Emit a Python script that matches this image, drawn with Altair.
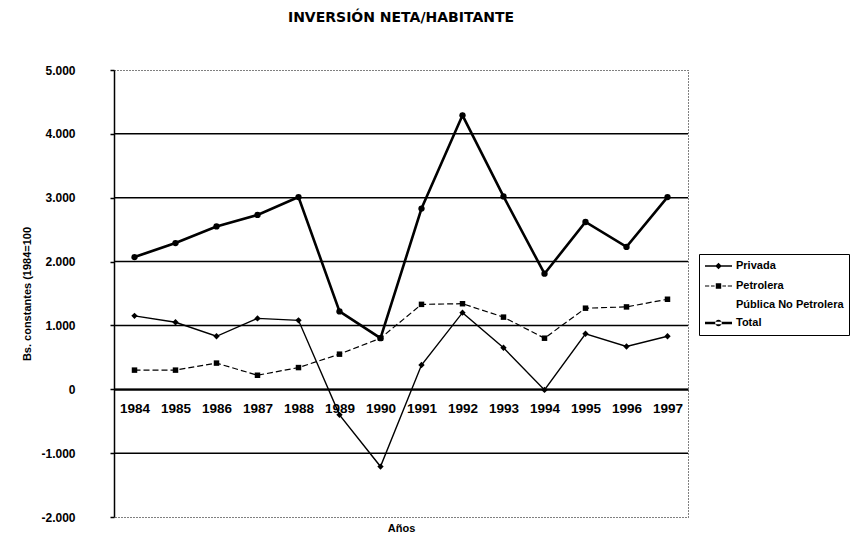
import altair as alt
import pandas as pd

# ---- data ----
years = ["1984", "1985", "1986", "1987", "1988", "1989", "1990",
         "1991", "1992", "1993", "1994", "1995", "1996", "1997"]
privada = [1150, 1050, 830, 1110, 1080, -400, -1210, 380, 1200, 650, -10, 870, 670, 830]
petrolera = [300, 300, 410, 220, 340, 550, 800, 1330, 1340, 1130, 800, 1270, 1290, 1410]
total = [2070, 2290, 2550, 2730, 3010, 1220, 800, 2830, 4290, 3020, 1810, 2620, 2230, 3010]
series_names = ["Privada", "Petrolera", "Pública No Petrolera", "Total"]
drawn_series = ["Privada", "Petrolera", "Total"]
y_ticks = [-2000, -1000, 0, 1000, 2000, 3000, 4000, 5000]
grid_values = [-1000, 0, 1000, 2000, 3000, 4000]

rows = []
for name, vals in zip(drawn_series, [privada, petrolera, total]):
    for yr, v in zip(years, vals):
        rows.append({"Año": yr, "Serie": name, "Valor": v})
df = pd.DataFrame(rows)
legend_df = pd.DataFrame({"Serie": series_names})
grid_df = pd.DataFrame({"v": grid_values})

W, H = 574, 447
Y_MIN, Y_MAX = -2000, 5000
zero_offset = -H * (0 - Y_MIN) / (Y_MAX - Y_MIN)

FONT = "Liberation Sans"

x_enc = alt.X(
    "Año:O", sort=years, scale=alt.Scale(domain=years),
    axis=alt.Axis(
        offset=zero_offset, title="Años", titleY=139, titleBaseline="middle",
        labelAngle=0, labelPadding=12, ticks=False,
        domainColor="black", domainWidth=2,
        labelFont=FONT, labelFontSize=13.5, labelFontWeight="bold", labelColor="black",
        titleFont=FONT, titleFontSize=11, titleFontWeight="bold", titleColor="black",
    ),
)
y_scale = alt.Scale(domain=[Y_MIN, Y_MAX], nice=False, zero=False)
y_enc = alt.Y(
    "Valor:Q", scale=y_scale,
    axis=alt.Axis(
        values=y_ticks, grid=False,
        labelExpr="(datum.value < 0 ? '-' : '') + replace(format(abs(datum.value), ',d'), ',', '.')",
        title="Bs. constantes (1984=100",
        domainColor="black", domainWidth=1.5, tickColor="black", tickSize=4, tickWidth=1.5,
        labelPadding=35, titlePadding=8,
        labelFont=FONT, labelFontSize=12, labelFontWeight="bold", labelColor="black",
        titleFont=FONT, titleFontSize=11, titleFontWeight="bold", titleColor="black",
    ),
)

grid = alt.Chart(grid_df).mark_rule(color="black", strokeWidth=1.5).encode(
    y=alt.Y("v:Q", scale=y_scale)
)

base = alt.Chart(df)
line_privada = base.transform_filter(alt.datum.Serie == "Privada").mark_line(
    color="black", strokeWidth=1.4).encode(x=x_enc, y=y_enc)
line_petrolera = base.transform_filter(alt.datum.Serie == "Petrolera").mark_line(
    color="black", strokeWidth=1.2, strokeDash=[6, 3]).encode(x=x_enc, y=y_enc)
line_total = base.transform_filter(alt.datum.Serie == "Total").mark_line(
    color="black", strokeWidth=2.6).encode(x=x_enc, y=y_enc)

pts_privada = base.transform_filter(alt.datum.Serie == "Privada").mark_point(
    filled=True, color="black", opacity=1, size=40, shape="diamond").encode(x=x_enc, y=y_enc)
pts_petrolera = base.transform_filter(alt.datum.Serie == "Petrolera").mark_point(
    filled=True, color="black", opacity=1, size=30, shape="square").encode(x=x_enc, y=y_enc)
pts_total = base.transform_filter(alt.datum.Serie == "Total").mark_point(
    filled=True, color="black", opacity=1, size=40, shape="circle").encode(x=x_enc, y=y_enc)

# legend symbols drawn as filled paths: unit = 6px (size 144);
# line spans -1..3.5 units (27px), marker centred at 1.25
P_PRIVADA = ("M-1,-0.11L3.5,-0.11L3.5,0.11L-1,0.11Z"
             "M1.25,-0.55L1.8,0L1.25,0.55L0.7,0Z")
P_PETROLERA = ("M-1,-0.1L-0.3,-0.1L-0.3,0.1L-1,0.1Z"
               "M0.0,-0.1L0.6,-0.1L0.6,0.1L0.0,0.1Z"
               "M1.9,-0.1L2.5,-0.1L2.5,0.1L1.9,0.1Z"
               "M2.8,-0.1L3.5,-0.1L3.5,0.1L2.8,0.1Z"
               "M0.8,-0.45L1.7,-0.45L1.7,0.45L0.8,0.45Z")
P_EMPTY = "M0,0"
P_TOTAL = ("M-1,-0.2L3.5,-0.2L3.5,0.2L-1,0.2Z"
           "M0.7,0A0.55,0.55,0,1,0,1.8,0A0.55,0.55,0,1,0,0.7,0Z")

legend_layer = alt.Chart(legend_df).mark_point(
    filled=True, color="black", opacity=0
).encode(
    shape=alt.Shape(
        "Serie:N",
        scale=alt.Scale(domain=series_names, range=[P_PRIVADA, P_PETROLERA, P_EMPTY, P_TOTAL]),
        legend=alt.Legend(
            title=None, orient="none", legendX=585, legendY=184,
            symbolSize=144, symbolFillColor="black", symbolOpacity=1,
            strokeColor="black", padding=5, rowPadding=6, labelOffset=18,
            labelFont=FONT, labelFontSize=11, labelFontWeight="bold", labelColor="black",
            labelLimit=300,
        ),
    )
)

chart = alt.layer(
    grid, line_privada, line_petrolera, line_total,
    pts_privada, pts_petrolera, pts_total, legend_layer
).properties(
    width=W, height=H,
    autosize=alt.AutoSizeParams(type="none"),
    padding={"left": 106, "top": 62, "right": 167, "bottom": 20},
    title=alt.TitleParams(
        "INVERSIÓN NETA/HABITANTE", font="DejaVu Sans", fontSize=14,
        fontWeight="bold", color="black", anchor="middle", offset=39,
    ),
    background="white",
).configure_view(
    stroke="black", strokeDash=[1, 2], strokeWidth=1
)

chart.save("out.html", embed_options={"renderer": "svg", "actions": False})
